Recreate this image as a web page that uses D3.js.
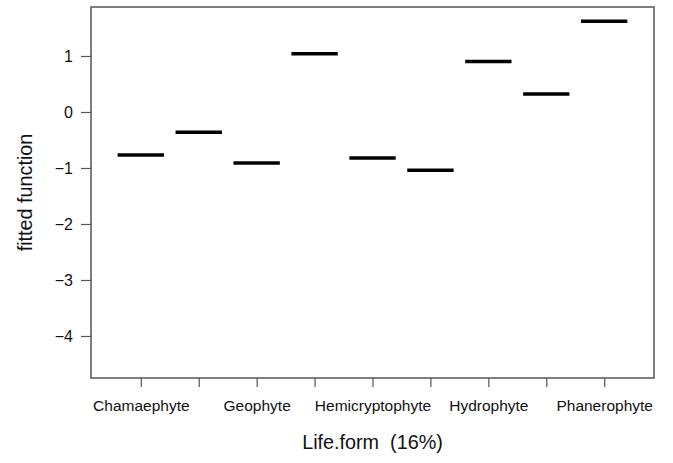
<!DOCTYPE html>
<html>
<head>
<meta charset="utf-8">
<script src="https://cdn.jsdelivr.net/npm/d3@7"></script>
<style>
  body { margin: 0; background: #fff; }
  svg { display: block; font-family: "Liberation Sans", Arial, sans-serif; }
</style>
</head>
<body>
<svg id="chart"></svg>
<script>
// life form levels (only every other label fits, like R drops them)
const categories = ["Chamaephyte", "Chamaephyte/Hemicryptophyte", "Geophyte", "Helophyte",
  "Hemicryptophyte", "Hemicryptophyte/Therophyte", "Hydrophyte", "Nanophanerophyte", "Phanerophyte"];
const shownLabels = ["Chamaephyte", "", "Geophyte", "", "Hemicryptophyte", "", "Hydrophyte", "", "Phanerophyte"];
const fitted = [-0.77, -0.36, -0.91, 1.04, -0.82, -1.04, 0.90, 0.32, 1.62];
const yTicks = [-4, -3, -2, -1, 0, 1];

const width = 673, height = 463;
const margin = { top: 7, right: 19, bottom: 85, left: 91 };

const svg = d3.select("#chart")
  .attr("width", width)
  .attr("height", height);

// R style 4% padding around [0.5, 9.5] and the y range
let x = d3.scaleLinear()
  .domain([0.14, 9.86])
  .range([margin.left, width - margin.right]);
let y = d3.scaleLinear()
  .domain([-4.75, 1.875])
  .range([height - margin.bottom, margin.top]);

// box
svg.append("rect")
  .attr("x", margin.left)
  .attr("y", margin.top)
  .attr("width", width - margin.left - margin.right)
  .attr("height", height - margin.top - margin.bottom)
  .attr("fill", "none")
  .attr("stroke", "#555")
  .attr("stroke-width", 1.5);

// y axis
let yAxis = svg.append("g")
  .attr("transform", "translate(" + margin.left + ",0)")
  .call(d3.axisLeft(y).tickValues(yTicks).tickSize(10).tickPadding(8)
    .tickFormat(d => d < 0 ? "\u2212" + Math.abs(d) : d));
yAxis.select(".domain").remove();
yAxis.selectAll("line").attr("stroke", "#555").attr("stroke-width", 1.2);
yAxis.selectAll("text").attr("font-size", 16).attr("fill", "#111")
  .attr("font-family", "Liberation Sans, Arial, sans-serif");

// x axis
let xAxis = svg.append("g")
  .attr("transform", "translate(0," + (height - margin.bottom) + ")")
  .call(d3.axisBottom(x).tickValues(d3.range(1, categories.length + 1))
    .tickSize(9).tickPadding(13)
    .tickFormat((d, i) => shownLabels[i]));
xAxis.select(".domain").remove();
xAxis.selectAll("line").attr("stroke", "#555").attr("stroke-width", 1.2);
xAxis.selectAll("text").attr("font-size", 15.5).attr("fill", "#111")
  .attr("font-family", "Liberation Sans, Arial, sans-serif");

// fitted levels as flat segments
svg.selectAll(".level")
  .data(fitted)
  .enter().append("line")
  .attr("class", "level")
  .attr("x1", (d, i) => x(i + 1 - 0.4))
  .attr("x2", (d, i) => x(i + 1 + 0.4))
  .attr("y1", d => y(d))
  .attr("y2", d => y(d))
  .attr("stroke", "#000")
  .attr("stroke-width", 3.5);

// axis titles
svg.append("text")
  .attr("x", (margin.left + width - margin.right) / 2)
  .attr("y", 449)
  .attr("text-anchor", "middle")
  .attr("font-size", 19.8)
  .attr("fill", "#111")
  .attr("xml:space", "preserve")
  .style("white-space", "pre")
  .text("Life.form  (16%)");

svg.append("text")
  .attr("transform", "translate(32," + (margin.top + height - margin.bottom) / 2 + ") rotate(-90)")
  .attr("text-anchor", "middle")
  .attr("font-size", 19.8)
  .attr("fill", "#111")
  .text("fitted function");
</script>
</body>
</html>
